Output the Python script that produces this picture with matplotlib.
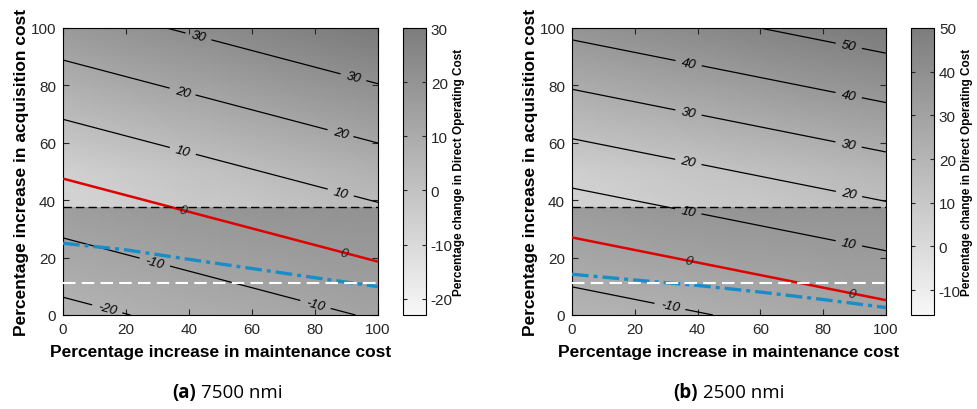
import numpy as np
import matplotlib.pyplot as plt
from matplotlib.colors import LinearSegmentedColormap, Normalize
from matplotlib.cm import ScalarMappable
from matplotlib.patches import Rectangle

plt.rcParams['font.family'] = ['Liberation Sans', 'DejaVu Sans']
plt.rcParams['axes.unicode_minus'] = False
plt.rcParams['contour.negative_linestyle'] = 'solid'

maint_grid = [0, 50, 100]
acq_grid = [0, 50, 100]

# percentage change in DOC, rows = acquisition cost, cols = maintenance cost
doc_7500 = [[-23.0, -16.0, -9.0],
            [1.2, 8.2, 15.2],
            [25.4, 32.4, 39.4]]
doc_2500 = [[-15.7, -9.35, -3.0],
            [13.35, 19.7, 26.05],
            [42.4, 48.75, 55.1]]

# blue dash-dot curve
blue_x = [0, 20, 40, 60, 80, 100]
blue_7500 = [25.0, 22.7, 19.4, 16.2, 13.0, 9.9]
blue_2500 = [14.2, 12.2, 10.3, 8.0, 5.4, 2.6]

# horizontal reference lines
black_dash_y = 37.7
white_dash_y = 11.0

levels_7500 = [-20, -10, 10, 20, 30]
levels_2500 = [-10, 10, 20, 30, 40, 50]
cbar_7500 = (-23, 30)
cbar_2500 = (-15.7, 50)
cticks_7500 = [-20, -10, 0, 10, 20, 30]
cticks_2500 = [-10, 0, 10, 20, 30, 40, 50]

W, H = 977, 410
fig = plt.figure(figsize=(W / 100, H / 100), dpi=100)


def gray_map(lo, hi):
    return LinearSegmentedColormap.from_list('g', [(lo, lo, lo), (hi, hi, hi)])


def panel(ax, cax, Z, levels, blue_y, crange, cticks, lab_pos, zero_pos):
    X, Y = np.meshgrid(maint_grid, acq_grid)
    Z = np.array(Z)
    z_split = np.interp(black_dash_y, acq_grid, Z[:, 0])
    # upper part shading
    ax.pcolormesh(X, Y, Z, shading='gouraud', cmap=gray_map(0.87, 0.48),
                  norm=Normalize(z_split, Z.max()), zorder=0)
    # lower part shading (darker band below the dashed line)
    low = ax.pcolormesh(X, Y, Z, shading='gouraud', cmap=gray_map(0.71, 0.55),
                        norm=Normalize(Z.min(), np.interp(black_dash_y, acq_grid, Z[:, -1])),
                        zorder=0.5)
    low.set_clip_path(Rectangle((0, 0), 100, black_dash_y, transform=ax.transData))

    cs = ax.contour(X, Y, Z, levels=levels, colors='k', linewidths=0.9, zorder=2)
    txt = ax.clabel(cs, fmt='%d', fontsize=9.5, inline=True, inline_spacing=6, manual=lab_pos)
    cz = ax.contour(X, Y, Z, levels=[0], colors='#e00000', linewidths=1.8, zorder=3)
    txt += ax.clabel(cz, fmt='%d', fontsize=9.5, inline=False, colors='#222222', manual=zero_pos)
    for t in txt:
        t.set_fontstyle('italic')

    ax.plot(blue_x, blue_y, color='#1a8cc8', lw=2.4, ls=(0, (5, 1.5, 1.2, 1.5)), zorder=4)
    ax.axhline(black_dash_y, color='k', lw=1.0, ls=(0, (6, 3)), zorder=4)
    ax.axhline(white_dash_y, color='white', lw=1.5, ls=(0, (6, 3)), zorder=4)

    ax.set_xlim(0, 100)
    ax.set_ylim(0, 100)
    ax.set_xticks(range(0, 101, 20))
    ax.set_yticks(range(0, 101, 20))
    ax.tick_params(direction='in', top=True, right=True, length=4, labelsize=11,
                   colors='#262626', pad=5)
    ax.set_xlabel('Percentage increase in maintenance cost', fontsize=12.5,
                  fontweight='bold', labelpad=6)
    ax.set_ylabel('Percentage increase in acquisition cost', fontsize=12.5,
                  fontweight='bold', labelpad=1)

    sm = ScalarMappable(norm=Normalize(*crange), cmap=gray_map(0.97, 0.49))
    cb = fig.colorbar(sm, cax=cax, ticks=cticks)
    cb.outline.set_linewidth(0.8)
    cax.tick_params(direction='in', left=True, right=True, length=3, labelsize=11,
                    colors='#262626')
    cb.set_label('Percentage change in Direct Operating Cost', fontsize=8.5,
                 fontweight='bold', labelpad=0)


bot = (H - 316) / H
hgt = 287 / H
ax1 = fig.add_axes([63 / W, bot, 315 / W, hgt])
cax1 = fig.add_axes([403 / W, bot, 23 / W, hgt])
ax2 = fig.add_axes([572 / W, bot, 314 / W, hgt])
cax2 = fig.add_axes([911 / W, bot, 23 / W, hgt])

panel(ax1, cax1, doc_7500, levels_7500, blue_7500, cbar_7500, cticks_7500,
      [(14, 2), (30, 22), (80, 3), (38, 57), (88, 42), (38, 78), (88, 63), (43, 97), (92, 82)],
      [(38, 36), (89, 21)])
panel(ax2, cax2, doc_2500, levels_2500, blue_2500, cbar_2500, cticks_2500,
      [(31, 2), (37, 36), (88, 24), (37, 53), (88, 41), (37, 70), (88, 59),
       (37, 87), (88, 76), (88, 93)],
      [(37, 18.5), (89, 7)])

cap_y = 1 - 393 / H
fig.text(196 / W, cap_y, '(a)', fontsize=13.5, fontweight='bold', ha='right', va='center',
         family='Open Sans')
fig.text(201 / W, cap_y, '7500 nmi', fontsize=13.5, ha='left', va='center', family='Open Sans')
fig.text(698 / W, cap_y, '(b)', fontsize=13.5, fontweight='bold', ha='right', va='center',
         family='Open Sans')
fig.text(703 / W, cap_y, '2500 nmi', fontsize=13.5, ha='left', va='center', family='Open Sans')

fig.savefig('out.png', dpi=100)
